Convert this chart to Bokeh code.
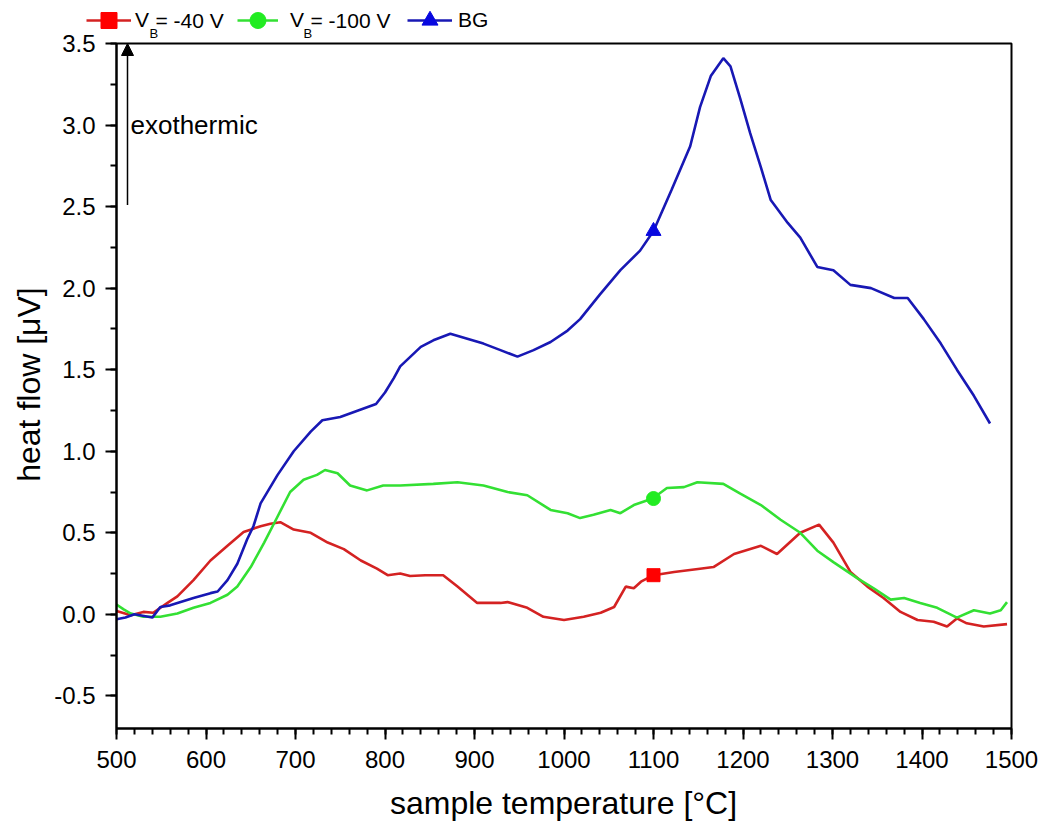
import math
from bokeh.plotting import figure
from bokeh.models import (Range1d, SingleIntervalTicker, PrintfTickFormatter, Arrow, NormalHead,
                          Label, Legend, LegendItem, BoxAnnotation)
from bokeh.embed import file_html
from bokeh.resources import INLINE

FONT = "Liberation Sans"

# ---------------- data ----------------
t_red = [500, 516, 530, 541, 557, 568, 586, 605, 624, 642, 661, 672, 683, 698, 717, 736, 754,
         773, 791, 803, 817, 828, 845, 865, 881, 903, 929, 937, 959, 977, 1000, 1022, 1041,
         1056, 1069, 1078, 1086, 1100, 1123, 1152, 1167, 1190, 1220, 1238, 1264, 1285, 1301,
         1320, 1339, 1357, 1376, 1395, 1413, 1428, 1439, 1450, 1469, 1495]
v_red = [0.02, -0.005, 0.015, 0.01, 0.07, 0.11, 0.21, 0.33, 0.42, 0.505, 0.54, 0.555, 0.565,
         0.52, 0.50, 0.44, 0.40, 0.33, 0.28, 0.24, 0.25, 0.235, 0.24, 0.24, 0.17, 0.07, 0.07,
         0.075, 0.04, -0.015, -0.035, -0.015, 0.01, 0.045, 0.17, 0.16, 0.20, 0.24, 0.26, 0.28,
         0.29, 0.37, 0.42, 0.37, 0.50, 0.55, 0.44, 0.26, 0.17, 0.10, 0.015, -0.035, -0.045,
         -0.075, -0.025, -0.055, -0.075, -0.06]

t_green = [500, 508, 516, 530, 549, 568, 586, 605, 624, 635, 650, 665, 680, 694, 709, 724, 733,
           747, 761, 780, 798, 817, 854, 881, 910, 937, 959, 985, 1004, 1018, 1033, 1052, 1063,
           1078, 1099, 1115, 1134, 1149, 1178, 1197, 1220, 1242, 1264, 1283, 1301, 1328, 1346,
           1365, 1380, 1398, 1417, 1439, 1458, 1476, 1488, 1495]
v_green = [0.06, 0.03, 0.005, -0.015, -0.015, 0.005, 0.04, 0.07, 0.12, 0.17, 0.29, 0.44, 0.60,
           0.75, 0.825, 0.855, 0.885, 0.865, 0.79, 0.76, 0.79, 0.79, 0.80, 0.81, 0.79, 0.75,
           0.73, 0.64, 0.62, 0.59, 0.61, 0.64, 0.62, 0.67, 0.71, 0.775, 0.78, 0.81, 0.80, 0.74,
           0.67, 0.58, 0.50, 0.39, 0.32, 0.22, 0.16, 0.09, 0.10, 0.07, 0.04, -0.02, 0.025,
           0.005, 0.025, 0.075]

t_blue = [500, 510, 520, 540, 549, 560, 586, 605, 613, 624, 635, 646, 653, 661, 680, 698, 717,
          730, 750, 770, 790, 800, 810, 817, 840, 854, 873, 910, 929, 948, 966, 985, 1004, 1018,
          1040, 1063, 1085, 1100, 1120, 1141, 1152, 1164, 1178, 1186, 1197, 1208, 1220, 1231,
          1250, 1264, 1283, 1301, 1320, 1343, 1369, 1384, 1402, 1421, 1439, 1458, 1476]
v_blue = [-0.03, -0.02, 0.0, -0.02, 0.045, 0.055, 0.10, 0.13, 0.14, 0.21, 0.31, 0.46, 0.54,
          0.68, 0.855, 1.0, 1.12, 1.19, 1.21, 1.25, 1.29, 1.36, 1.45, 1.52, 1.64, 1.68, 1.72,
          1.66, 1.62, 1.58, 1.62, 1.67, 1.74, 1.81, 1.96, 2.11, 2.23, 2.35, 2.60, 2.87, 3.11,
          3.30, 3.41, 3.36, 3.16, 2.95, 2.74, 2.54, 2.40, 2.31, 2.13, 2.11, 2.02, 2.00, 1.94,
          1.94, 1.81, 1.66, 1.50, 1.34, 1.17]

marker_t = [1100]
marker_red = [0.24]
marker_green = [0.71]
marker_blue = [2.35]

series_main = ["V", "V", "BG"]
series_sub = ["B", "B"]
series_rest = ["= -40 V", "= -100 V"]
x_title = "sample temperature [°C]"
y_title = "heat flow [μV]"

RED_L, RED_M = "#d42222", "#ff0000"
GRN_L, GRN_M = "#33e033", "#22ec22"
BLU_L, BLU_M = "#1818b4", "#0808e0"

# axis box on the page (pixels) and the data values at its edges
X0, X1, Y0, Y1 = 500, 1500, -0.7, 3.5
PL, PR, PT, PB = 116, 1011, 43, 728
W, H = 1046, 825


def dx(px):
    return X0 + (px - PL) * (X1 - X0) / (PR - PL)


def dy(py):
    return Y0 + (PB - py) * (Y1 - Y0) / (PB - PT)


# the drawing frame covers the whole canvas; axes are pinned to the axis box
p = figure(width=W, height=H, x_range=Range1d(dx(0), dx(W)), y_range=Range1d(dy(H), dy(0)),
           output_backend="svg", toolbar_location=None,
           min_border_left=0, min_border_right=0, min_border_top=0, min_border_bottom=0)
p.xgrid.visible = False
p.ygrid.visible = False
p.outline_line_color = None

p.xaxis.ticker = SingleIntervalTicker(interval=100, num_minor_ticks=5)
p.yaxis.ticker = SingleIntervalTicker(interval=0.5, num_minor_ticks=2)
p.yaxis.formatter = PrintfTickFormatter(format="%.1f")
p.xaxis.bounds = (X0, X1)
p.yaxis.bounds = (Y0, Y1)
p.xaxis.fixed_location = Y0
p.yaxis.fixed_location = X0
for ax in (p.xaxis, p.yaxis):
    ax.axis_line_width = 2
    ax.major_tick_line_width = 2
    ax.minor_tick_line_width = 2
    ax.major_tick_out = 11
    ax.major_tick_in = 0
    ax.minor_tick_out = 6
    ax.minor_tick_in = 0
    ax.major_label_text_font = FONT
    ax.major_label_text_font_size = "24px"
    ax.major_label_text_color = "black"
p.xaxis.major_label_standoff = 11
p.yaxis.major_label_standoff = 10

# axis titles
p.add_layout(Label(x=dx(563), y=dy(802), text=x_title, text_font=FONT, text_font_size="32px",
                   text_align="center", text_baseline="middle", text_color="black"))
p.add_layout(Label(x=dx(28), y=dy(384), text=y_title, text_font=FONT, text_font_size="32px",
                   text_align="center", text_baseline="middle", angle=math.pi / 2,
                   text_color="black"))

# box around the axes area (top and right edges)
p.add_layout(BoxAnnotation(left=X0, right=X1, bottom=Y0, top=Y1, fill_color=None,
                           fill_alpha=0, line_color="black", line_width=2, line_alpha=1))

l_red = p.line(t_red, v_red, line_color=RED_L, line_width=2.6)
l_grn = p.line(t_green, v_green, line_color=GRN_L, line_width=2.6)
l_blu = p.line(t_blue, v_blue, line_color=BLU_L, line_width=2.6)
m_red = p.scatter(marker_t, marker_red, marker="square", size=13, color=RED_M)
m_grn = p.scatter(marker_t, marker_green, marker="circle", size=14, color=GRN_M)
m_blu = p.scatter(marker_t, marker_blue, marker="triangle", size=15, color=BLU_M)

p.add_layout(Arrow(end=NormalHead(size=12, fill_color="black", line_color="black", line_width=1),
                   x_start=dx(127), y_start=2.51, x_end=dx(127), y_end=Y1,
                   line_width=1.5, line_color="black"))
p.add_layout(Label(x=dx(130), y=3.0, text="exothermic", text_font=FONT, text_font_size="26px",
                   text_baseline="middle", text_color="black"))

# ---------------- legend row above the axis box ----------------
LEG_H = 40
LEG_CY = 20  # centre line of the legend row (page px)
leg_specs = [
    (series_main[0], [l_red, m_red], 86, 45, 4),
    (series_main[1], [l_grn, m_grn], 237, 41, 12),
    (series_main[2], [l_blu, m_blu], 407, 45, 6),
]
for text, rends, left, gw, standoff in leg_specs:
    lg = Legend(items=[LegendItem(label=text, renderers=rends)],
                location=(left, H - (LEG_CY + LEG_H / 2)),
                glyph_width=gw, glyph_height=LEG_H, label_height=LEG_H,
                label_standoff=standoff, padding=0, margin=0, spacing=0,
                border_line_color=None, background_fill_alpha=0,
                label_text_font=FONT, label_text_font_size="21px", label_text_color="black")
    p.add_layout(lg)

for sub_x, rest_x, sub, rest in [(149, 155, series_sub[0], series_rest[0]),
                                 (303, 310, series_sub[1], series_rest[1])]:
    p.add_layout(Label(x=dx(sub_x), y=dy(33), text=sub, text_font=FONT, text_font_size="13px",
                       text_baseline="middle", text_color="black"))
    p.add_layout(Label(x=dx(rest_x), y=dy(LEG_CY), text=rest, text_font=FONT,
                       text_font_size="21px", text_baseline="middle", text_color="black"))

open("out.html", "w").write(file_html(p, INLINE))
